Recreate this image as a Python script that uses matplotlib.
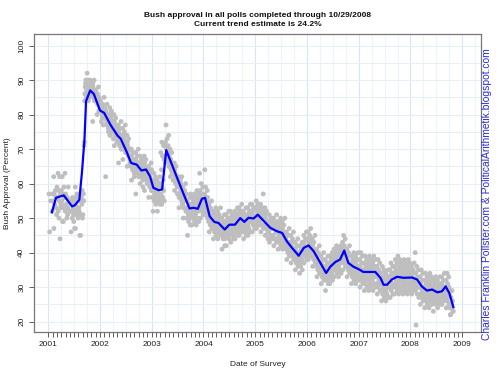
import matplotlib
matplotlib.use('Agg')
import matplotlib.pyplot as plt

# Poll results, one list per month (Jan..Dec), values in percent
polls_2001 = [
    [46, 52, 55, 57],
    [47, 51, 53, 55, 56, 57, 57, 58, 62, 53, 54],
    [52, 53, 55, 56, 57, 58, 59, 62, 63, 54, 50, 56, 44],
    [49, 52, 53, 55, 56, 57, 58, 59, 62, 63, 49, 54, 56],
    [50, 52, 53, 54, 55, 56, 57, 59, 53, 55, 51],
    [46, 49, 50, 52, 53, 54, 55, 56, 52, 51, 55],
    [47, 50, 51, 52, 53, 54, 55, 57, 59, 52, 56, 47],
    [45, 50, 51, 52, 54, 55, 55, 56, 57, 58, 45, 53],
    [51, 55, 57, 55, 71, 72, 84, 86, 88, 89, 90, 86, 85, 87, 90],
    [84, 86, 87, 88, 89, 90, 92, 88, 87, 86, 85, 89, 90, 88, 87],
    [78, 84, 85, 86, 87, 88, 89, 90, 86, 87, 85, 88, 84, 89],
    [80, 82, 83, 84, 85, 86, 87, 88, 86, 84, 83, 85, 81],
]
polls_2002 = [
    [78, 79, 80, 81, 82, 83, 84, 83, 82, 80, 79, 84, 77, 81, 85],
    [62, 76, 78, 79, 80, 81, 82, 83, 80, 78, 77, 82, 79, 81, 75],
    [74, 75, 76, 77, 78, 79, 80, 81, 82, 77, 79, 76, 80, 74, 78],
    [71, 72, 74, 75, 76, 77, 78, 79, 80, 75, 77, 73, 76, 78, 74],
    [66, 70, 71, 72, 73, 74, 75, 76, 77, 78, 74, 73, 72, 75, 70],
    [67, 69, 70, 71, 72, 73, 74, 75, 76, 77, 73, 72, 70, 74, 71],
    [65, 67, 68, 69, 70, 71, 72, 73, 74, 70, 69, 71, 68, 72, 66],
    [61, 63, 64, 65, 66, 67, 68, 69, 70, 65, 66, 67, 64, 68, 62],
    [57, 62, 63, 64, 65, 66, 67, 68, 69, 70, 65, 64, 66, 67, 63],
    [60, 61, 62, 63, 64, 65, 66, 67, 68, 63, 65, 64, 62, 66, 59],
    [58, 60, 62, 63, 64, 65, 66, 67, 68, 63, 64, 65, 61, 66],
    [56, 58, 59, 60, 61, 62, 63, 64, 65, 66, 61, 62, 63, 60, 64],
]
polls_2003 = [
    [52, 54, 55, 56, 57, 58, 59, 60, 61, 62, 63, 58, 57, 60, 56],
    [52, 54, 55, 56, 57, 58, 59, 60, 61, 62, 57, 58, 56, 59, 55],
    [54, 55, 56, 57, 58, 59, 60, 61, 64, 67, 68, 69, 71, 72, 71],
    [77, 74, 73, 72, 71, 70, 71, 69, 68, 70, 67, 66, 69, 68, 65],
    [62, 63, 64, 65, 66, 67, 68, 69, 70, 65, 64, 66, 63, 67, 61],
    [58, 59, 60, 61, 62, 63, 64, 65, 66, 61, 62, 63, 60, 64, 57],
    [53, 55, 56, 57, 58, 59, 60, 61, 62, 58, 59, 57, 60, 56, 62],
    [50, 52, 53, 54, 55, 56, 57, 58, 59, 60, 55, 54, 56, 53, 57],
    [45, 48, 49, 50, 51, 52, 53, 54, 55, 56, 51, 52, 50, 53, 57],
    [48, 49, 50, 51, 52, 53, 54, 55, 56, 57, 52, 53, 51, 54, 50],
    [48, 49, 50, 51, 52, 53, 54, 55, 56, 57, 58, 52, 53, 50, 54],
    [50, 51, 52, 53, 54, 55, 56, 57, 58, 59, 60, 63, 55, 56, 54],
]
polls_2004 = [
    [64, 50, 51, 52, 53, 54, 55, 56, 57, 58, 59, 53, 55, 54, 56],
    [46, 47, 48, 49, 50, 51, 52, 53, 54, 55, 50, 51, 49, 52, 48],
    [44, 45, 46, 47, 48, 49, 50, 51, 52, 53, 49, 50, 48, 51, 47],
    [44, 45, 46, 47, 48, 49, 50, 51, 52, 48, 49, 47, 50, 46, 53],
    [41, 42, 44, 45, 46, 47, 48, 49, 50, 51, 46, 47, 45, 48, 44],
    [42, 44, 45, 46, 47, 48, 49, 50, 51, 52, 47, 48, 46, 49, 45],
    [43, 45, 46, 47, 48, 49, 50, 51, 52, 48, 47, 49, 46, 50, 44],
    [44, 45, 46, 47, 48, 49, 50, 51, 52, 53, 48, 49, 47, 50, 46],
    [45, 46, 47, 48, 49, 50, 51, 52, 53, 54, 49, 50, 51, 52, 48],
    [44, 45, 46, 47, 48, 49, 50, 51, 52, 53, 48, 49, 47, 50, 46],
    [45, 46, 47, 48, 49, 50, 51, 52, 53, 54, 49, 50, 51, 48, 52],
    [46, 47, 48, 49, 50, 51, 52, 53, 54, 49, 50, 51, 48, 52, 47],
]
polls_2005 = [
    [47, 48, 49, 50, 51, 52, 53, 54, 55, 50, 51, 49, 52, 48, 53],
    [46, 47, 48, 49, 50, 51, 52, 53, 54, 57, 50, 49, 51, 48, 52],
    [45, 46, 47, 48, 49, 50, 51, 52, 53, 48, 49, 50, 47, 51, 44],
    [43, 44, 45, 46, 47, 48, 49, 50, 51, 47, 48, 46, 49, 45, 50],
    [42, 43, 44, 45, 46, 47, 48, 49, 50, 46, 47, 45, 48, 44, 51],
    [41, 42, 43, 44, 45, 46, 47, 48, 49, 50, 45, 46, 47, 44, 48],
    [41, 42, 43, 44, 45, 46, 47, 48, 49, 50, 45, 46, 44, 47, 43],
    [38, 39, 40, 41, 42, 43, 44, 45, 46, 47, 43, 44, 42, 45, 41],
    [37, 38, 39, 40, 41, 42, 43, 44, 45, 46, 41, 42, 40, 43, 39],
    [35, 36, 37, 38, 39, 40, 41, 42, 43, 44, 39, 40, 38, 41, 37],
    [34, 35, 36, 37, 38, 39, 40, 41, 42, 43, 39, 38, 40, 37, 41],
    [37, 38, 39, 40, 41, 42, 43, 44, 45, 46, 41, 42, 40, 43, 39],
]
polls_2006 = [
    [38, 39, 40, 41, 42, 43, 44, 45, 46, 47, 42, 41, 43, 40, 44],
    [36, 37, 38, 39, 40, 41, 42, 43, 44, 45, 40, 41, 39, 42, 38],
    [33, 34, 35, 36, 37, 38, 39, 40, 41, 42, 37, 38, 36, 39, 35],
    [31, 32, 33, 34, 35, 36, 37, 38, 39, 40, 35, 36, 34, 37, 33],
    [29, 31, 32, 33, 34, 35, 36, 37, 38, 39, 34, 35, 33, 36, 32],
    [31, 32, 33, 34, 35, 36, 37, 38, 39, 40, 35, 36, 34, 37, 33],
    [33, 34, 35, 36, 37, 38, 39, 40, 41, 42, 36, 37, 38, 35, 39],
    [33, 34, 35, 36, 37, 38, 39, 40, 41, 42, 38, 37, 39, 36, 40],
    [35, 36, 37, 38, 39, 40, 41, 42, 43, 44, 45, 40, 39, 41, 38],
    [33, 34, 35, 36, 37, 38, 39, 40, 41, 42, 37, 38, 36, 39, 35],
    [31, 32, 33, 34, 35, 36, 37, 38, 39, 40, 36, 35, 37, 34, 38],
    [31, 32, 33, 34, 35, 36, 37, 38, 39, 40, 35, 36, 34, 37, 33],
]
polls_2007 = [
    [30, 31, 32, 33, 34, 35, 36, 37, 38, 39, 40, 35, 34, 36, 33],
    [29, 30, 31, 32, 33, 34, 35, 36, 37, 38, 39, 34, 35, 33, 36],
    [29, 30, 31, 32, 33, 34, 35, 36, 37, 38, 39, 34, 35, 33, 36],
    [29, 30, 31, 32, 33, 34, 35, 36, 37, 38, 39, 34, 35, 33, 36],
    [28, 29, 30, 31, 32, 33, 34, 35, 36, 37, 38, 33, 32, 34, 31],
    [26, 27, 28, 29, 30, 31, 32, 33, 34, 35, 36, 31, 30, 32, 29],
    [26, 27, 28, 29, 30, 31, 32, 33, 34, 35, 31, 30, 32, 29, 33],
    [27, 28, 29, 30, 31, 32, 33, 34, 35, 36, 37, 32, 31, 33, 30],
    [28, 29, 30, 31, 32, 33, 34, 35, 36, 37, 38, 33, 32, 34, 31],
    [28, 29, 30, 31, 32, 33, 34, 35, 36, 37, 38, 39, 33, 32, 34],
    [28, 29, 30, 31, 32, 33, 34, 35, 36, 37, 38, 33, 32, 34, 31],
    [28, 29, 30, 31, 32, 33, 34, 35, 36, 37, 38, 33, 32, 34, 31],
]
polls_2008 = [
    [28, 29, 30, 31, 32, 33, 34, 35, 36, 37, 32, 33, 31, 34, 30],
    [19, 27, 28, 29, 30, 31, 32, 33, 34, 35, 36, 40, 31, 32, 30],
    [25, 26, 27, 28, 29, 30, 31, 32, 33, 34, 35, 30, 29, 31, 28],
    [24, 25, 26, 27, 28, 29, 30, 31, 32, 33, 34, 29, 28, 30, 27],
    [24, 25, 26, 27, 28, 29, 30, 31, 32, 33, 34, 29, 28, 30, 27],
    [23, 25, 26, 27, 28, 29, 30, 31, 32, 33, 28, 29, 27, 30, 26],
    [24, 25, 26, 27, 28, 29, 30, 31, 32, 33, 28, 29, 27, 30, 26],
    [25, 26, 27, 28, 29, 30, 31, 32, 33, 34, 29, 30, 28, 31, 27],
    [24, 25, 26, 27, 28, 29, 30, 31, 32, 33, 34, 28, 29, 27, 30],
    [22, 23, 24, 25, 26, 27, 28, 29, 22, 23, 25, 24],
]
poll_years = [2001, 2002, 2003, 2004, 2005, 2006, 2007, 2008]

# Trend estimate (decimal year, percent)
trend_x = [2001.07, 2001.15, 2001.30, 2001.46, 2001.51, 2001.60, 2001.65, 2001.70,
           2001.73, 2001.81, 2001.88, 2002.00, 2002.08, 2002.20, 2002.34, 2002.40,
           2002.51, 2002.60, 2002.71, 2002.80, 2002.89, 2002.97, 2003.03, 2003.13,
           2003.20, 2003.28, 2003.39, 2003.49, 2003.62, 2003.73, 2003.81, 2003.89,
           2003.97, 2004.03, 2004.12, 2004.21, 2004.29, 2004.41, 2004.50, 2004.61,
           2004.71, 2004.79, 2004.87, 2004.97, 2005.05, 2005.17, 2005.29, 2005.42,
           2005.52, 2005.61, 2005.71, 2005.84, 2005.94, 2006.03, 2006.13, 2006.26,
           2006.37, 2006.45, 2006.55, 2006.64, 2006.72, 2006.80, 2006.90, 2007.00,
           2007.09, 2007.32, 2007.42, 2007.48, 2007.55, 2007.64, 2007.74, 2007.87,
           2008.03, 2008.13, 2008.22, 2008.32, 2008.42, 2008.52, 2008.61, 2008.68,
           2008.75, 2008.83]
trend_y = [51.7, 55.9, 56.6, 53.4, 53.7, 55.3, 63.1, 72.8,
           83.9, 87.0, 86.0, 81.2, 80.5, 77.1, 73.9, 73.0,
           69.4, 66.0, 65.5, 63.8, 64.1, 62.0, 58.8, 58.1,
           58.3, 69.7, 65.5, 61.7, 56.8, 52.8, 53.0, 52.7,
           55.6, 55.9, 50.5, 48.9, 48.6, 46.7, 48.1, 48.1,
           50.0, 48.9, 50.1, 49.9, 51.0, 49.1, 47.2, 46.2,
           45.7, 43.3, 41.4, 39.1, 41.4, 42.1, 40.4, 37.0,
           34.1, 35.9, 37.3, 38.0, 40.6, 37.0, 35.9, 35.2,
           34.4, 34.4, 32.7, 30.7, 30.7, 32.2, 33.0, 32.7,
           32.8, 32.2, 30.2, 29.0, 29.3, 28.5, 28.8, 30.2,
           28.3, 24.2]

year_ticks = [2001, 2002, 2003, 2004, 2005, 2006, 2007, 2008, 2009]
y_ticks = [20, 30, 40, 50, 60, 70, 80, 90, 100]

plt.rcParams['font.family'] = ['Liberation Sans', 'DejaVu Sans']

# place each month's polls across the month (low-discrepancy day order)
xs, ys = [], []
for yr, months in zip(poll_years, [polls_2001, polls_2002, polls_2003, polls_2004,
                                   polls_2005, polls_2006, polls_2007, polls_2008]):
    for m, vals in enumerate(months):
        n = len(vals)
        for i, v in enumerate(vals):
            if yr == 2001 and m == 8:
                frac = (i + 0.5) / n          # keep chronological order around 9/11
            else:
                frac = ((i + 0.5) * 0.618034) % 1.0
            xs.append(yr + (m + frac) / 12.0)
            ys.append(v)

fig = plt.figure(figsize=(5, 3.75), dpi=100)
ax = fig.add_axes([0.0686, 0.1147, 0.893, 0.795])
ax.set_xlim(2000.73, 2009.36)
ax.set_ylim(17.0, 103.4)

# light blue grid
for q in range(2001 * 4, 2009 * 4 + 2):
    xv = q / 4.0
    major = (q % 4 == 0)
    ax.axvline(xv, color='#d8e5f7' if major else '#eef3fb', lw=0.8, zorder=0)
for yv in range(20, 105, 5):
    ax.axhline(yv, color='#e6eef9', lw=0.8, zorder=0)

ax.scatter(xs, ys, s=12, color='#bebebe', edgecolors='none', zorder=2)
ax.plot(trend_x, trend_y, color='#0000ff', lw=1.6, zorder=3)

ax.set_xticks(year_ticks)
ax.set_xticks([2001 + k / 12.0 for k in range(0, 97)], minor=True)
ax.set_xticklabels([str(y) for y in year_ticks], fontsize=6, color='#222222')
ax.set_yticks(y_ticks)
ax.set_yticklabels([str(y) for y in y_ticks], fontsize=6, color='#222222',
                   rotation=90, va='center')
ax.tick_params(axis='both', which='major', length=3.5, width=0.6, color='#444444', pad=3)
ax.tick_params(axis='x', which='minor', length=3.5, width=0.6, color='#444444')
for sp in ax.spines.values():
    sp.set_color('#777777')
    sp.set_linewidth(0.9)

ax.set_xlabel('Date of Survey', fontsize=6, color='#222222', labelpad=9)
ax.set_ylabel('Bush Approval (Percent)', fontsize=6, color='#222222', labelpad=5)
ax.set_title('Bush approval in all polls completed through 10/29/2008\n'
             'Current trend estimate is 24.2%', fontsize=6.0, fontweight='bold',
             color='#111111', pad=6, linespacing=1.3)

fig.text(0.974, 0.481, 'Charles Franklin Pollster.com & PoliticalArithmetik.blogspot.com',
         rotation=90, color='#2b2bd9', fontsize=7.4, ha='center', va='center')

fig.savefig('out.png', dpi=100)
